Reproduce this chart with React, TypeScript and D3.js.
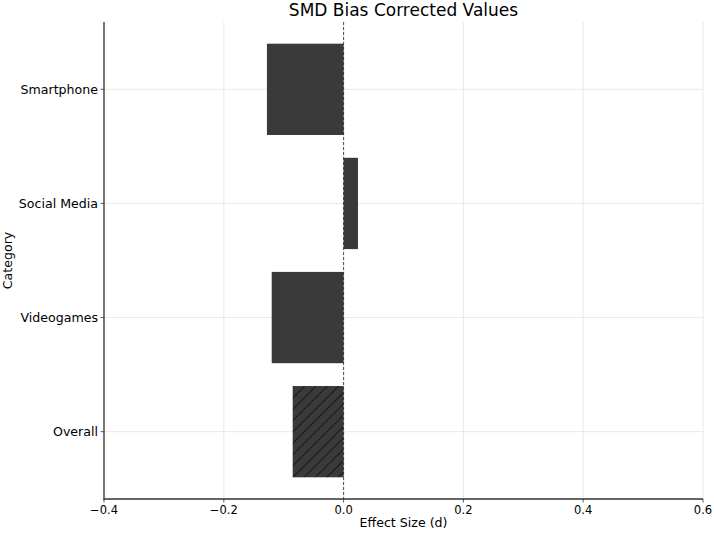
import * as d3 from 'd3'

const categories = ['Overall', 'Videogames', 'Social Media', 'Smartphone']
const effects = [-0.085, -0.12, 0.024, -0.128]
const hatched = [true, false, false, false]
const xTicks = [-0.4, -0.2, 0.0, 0.2, 0.4, 0.6]

const W = 714
const H = 533
const margin = { top: 22, right: 11, bottom: 34, left: 104 }

export default function App() {
  const x = d3.scaleLinear().domain([-0.4, 0.6]).range([margin.left, W - margin.right])
  const y = d3.scaleLinear().domain([-0.59, 3.59]).range([H - margin.bottom, margin.top])
  const barH = y(0) - y(0.8)
  const font = 'DejaVu Sans, sans-serif'
  const plotTop = margin.top
  const plotBottom = H - margin.bottom

  return (
    <svg width={W} height={H} style={{ position: 'absolute', left: 0, top: 0, background: '#fff' }}>
      <defs>
        <pattern id="hatch" patternUnits="userSpaceOnUse" width={8} height={8} patternTransform="rotate(45)">
          <rect width={8} height={8} fill="#3a3a3a" />
          <line x1={0} y1={0} x2={0} y2={8} stroke="#000" strokeWidth={1.2} />
        </pattern>
      </defs>

      {/* grid */}
      {xTicks.map(t => (
        <line key={'gx' + t} x1={x(t)} x2={x(t)} y1={plotTop} y2={plotBottom} stroke="#e3e3e3" strokeWidth={0.8} />
      ))}
      {categories.map((c, i) => (
        <line key={'gy' + c} x1={margin.left} x2={W - margin.right} y1={y(i)} y2={y(i)} stroke="#e3e3e3" strokeWidth={0.8} />
      ))}

      {/* bars */}
      {categories.map((c, i) => {
        const v = effects[i]
        return (
          <rect
            key={c}
            x={x(Math.min(0, v))}
            y={y(i) - barH / 2}
            width={Math.abs(x(v) - x(0))}
            height={barH}
            fill={hatched[i] ? 'url(#hatch)' : '#3a3a3a'}
          />
        )
      })}

      {/* zero line */}
      <line x1={x(0)} x2={x(0)} y1={plotTop} y2={plotBottom} stroke="#222" strokeWidth={0.8} strokeDasharray="3,2" />

      {/* spines */}
      <line x1={margin.left} x2={margin.left} y1={plotTop} y2={plotBottom + 0.6} stroke="#333" strokeWidth={1.3} />
      <line x1={margin.left - 0.6} x2={W - margin.right} y1={plotBottom} y2={plotBottom} stroke="#333" strokeWidth={1.3} />

      {/* x ticks */}
      {xTicks.map(t => (
        <g key={'xt' + t}>
          <line x1={x(t)} x2={x(t)} y1={plotBottom} y2={plotBottom + 3.5} stroke="#333" strokeWidth={0.8} />
          <text x={x(t)} y={plotBottom + 15} textAnchor="middle" fontFamily={font} fontSize={11.5} fill="#000">
            {t.toFixed(1).replace('-', '\u2212')}
          </text>
        </g>
      ))}

      {/* y ticks */}
      {categories.map((c, i) => (
        <g key={'yt' + c}>
          <line x1={margin.left - 3.5} x2={margin.left} y1={y(i)} y2={y(i)} stroke="#333" strokeWidth={0.8} />
          <text x={margin.left - 6} y={y(i)} dy="0.35em" textAnchor="end" fontFamily={font} fontSize={12.6} fill="#000">
            {c}
          </text>
        </g>
      ))}

      {/* labels */}
      <text x={(margin.left + W - margin.right) / 2} y={527} textAnchor="middle" fontFamily={font} fontSize={12.6} fill="#000">
        Effect Size (d)
      </text>
      <text
        transform={`translate(12, ${(plotTop + plotBottom) / 2}) rotate(-90)`}
        textAnchor="middle"
        fontFamily={font}
        fontSize={12.6}
        fill="#000"
      >
        Category
      </text>
      <text x={(margin.left + W - margin.right) / 2} y={16} textAnchor="middle" fontFamily={font} fontSize={17} fill="#000">
        SMD Bias Corrected Values
      </text>
    </svg>
  )
}
